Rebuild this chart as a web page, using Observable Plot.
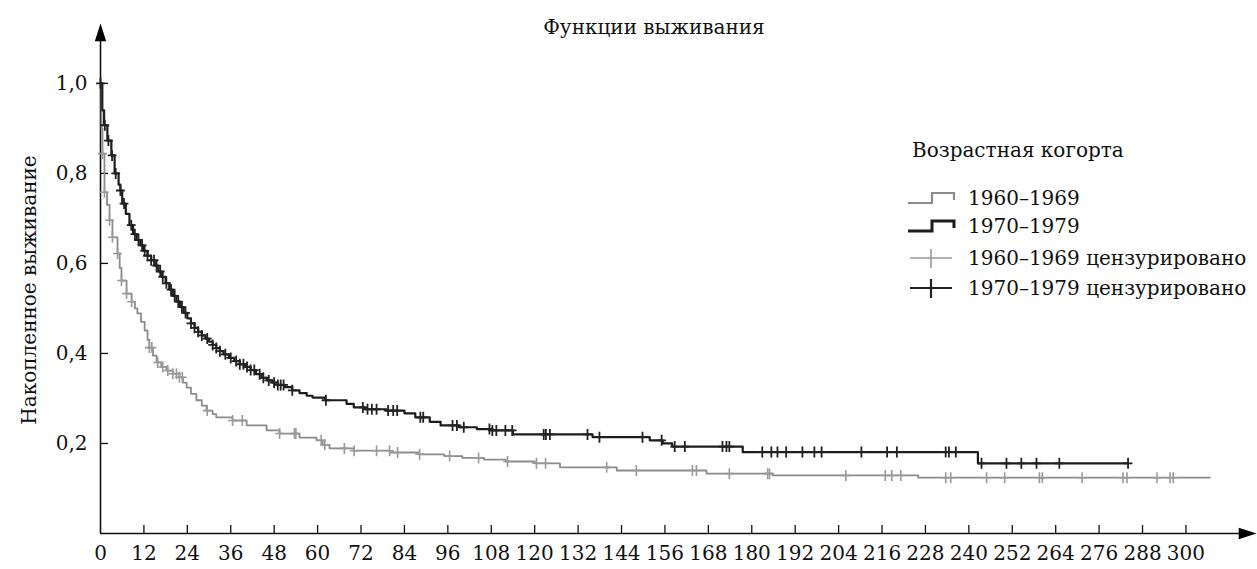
<!DOCTYPE html>
<html>
<head>
<meta charset="utf-8">
<script src="https://cdn.jsdelivr.net/npm/d3@7"></script>
<script src="https://cdn.jsdelivr.net/npm/@observablehq/plot@0.6"></script>
<style>
  html, body { margin: 0; padding: 0; background: #fff; }
  #wrap { position: relative; width: 1257px; height: 569px; overflow: hidden; font-family: "DejaVu Serif", serif; color: #111; }
  #chart { position: absolute; left: 0; top: 0; }
  .abs { position: absolute; white-space: nowrap; font-size: 20px; line-height: 1; }
  #title { left: 0; width: 1308px; text-align: center; top: 17px; }
  #ylab { left: 29px; top: 290px; transform: translate(-50%, -50%) rotate(-90deg); }
  .leg { position: absolute; left: 906px; height: 24px; display: flex; align-items: center; white-space: nowrap; font-size: 20px; }
  .leg svg { flex: none; }
  .leg span { margin-left: 12px; }
</style>
</head>
<body>
<div id="wrap">
  <div id="chart"></div>
  <div id="title" class="abs"></div>
  <div id="ylab" class="abs"></div>
  <div id="legtitle" class="abs" style="left:912px; top:140px;"></div>
  <div id="legend"></div>
</div>
<script>
// ---- text ----
const titleText = "Функции выживания";
const yLabel = "Накопленное выживание";
const legendTitle = "Возрастная когорта";
const cohorts = ["1960–1969", "1970–1979"];
const censSuffix = " цензурировано";

// ---- ticks ----
const xTicks = [0, 12, 24, 36, 48, 60, 72, 84, 96, 108, 120, 132, 144, 156, 168, 180, 192, 204, 216, 228, 240, 252, 264, 276, 288, 300];
const yTicks = [0.2, 0.4, 0.6, 0.8, 1.0];
const yTickLabels = ["0,2", "0,4", "0,6", "0,8", "1,0"];

// ---- 1960–1969 step curve (months, survival) ----
const times6069 = [0, 0.3, 0.55, 1.1, 1.8, 2.5, 3.3, 4.7, 5.3, 5.8, 7.2, 8.6, 9.5, 10.2, 11.2, 12.2, 13, 13.5, 14.5, 15.5, 16.8, 18.2, 20, 21.8, 22.8, 23.8, 25, 26.5, 28, 29.3, 31, 32, 36.5, 40.4, 45.9, 49.5, 55, 59.7, 61.4, 63.3, 70, 80, 88, 95, 100, 106, 112, 120, 127, 142.7, 167.5, 185.8, 226, 306.6];
const surv6069 = [1.0, 0.9, 0.844, 0.758, 0.73, 0.696, 0.658, 0.622, 0.59, 0.562, 0.533, 0.515, 0.5, 0.489, 0.47, 0.451, 0.43, 0.413, 0.395, 0.38, 0.37, 0.362, 0.355, 0.347, 0.335, 0.324, 0.31, 0.296, 0.284, 0.273, 0.265, 0.258, 0.251, 0.24, 0.229, 0.222, 0.213, 0.207, 0.197, 0.189, 0.184, 0.18, 0.176, 0.172, 0.168, 0.164, 0.16, 0.156, 0.147, 0.14, 0.133, 0.129, 0.124, 0.124];

// ---- 1970–1979 step curve ----
const times7079 = [0, 0.5, 1, 1.9, 3, 3.9, 5, 5.5, 6, 7, 8, 9, 10, 11, 12, 13, 14, 15, 16, 17, 18, 19, 20, 21, 22, 23, 24, 25, 26, 27, 28, 29, 30, 31, 32, 33, 34, 35.5, 37, 38.5, 40, 41.5, 43, 44.5, 46, 47.5, 49, 51, 53, 55, 57, 58.6, 62, 68, 70, 73, 79, 84, 87, 91, 94, 99, 104, 108, 114, 136, 151.8, 155.4, 158, 177.5, 242.5, 284];
const surv7079 = [1.0, 0.94, 0.907, 0.873, 0.84, 0.80, 0.775, 0.762, 0.733, 0.71, 0.685, 0.665, 0.652, 0.64, 0.628, 0.617, 0.607, 0.595, 0.582, 0.57, 0.556, 0.542, 0.528, 0.515, 0.503, 0.49, 0.478, 0.467, 0.457, 0.448, 0.44, 0.433, 0.426, 0.419, 0.412, 0.405, 0.398, 0.39, 0.383, 0.376, 0.37, 0.363, 0.354, 0.346, 0.34, 0.335, 0.33, 0.325, 0.318, 0.312, 0.306, 0.302, 0.296, 0.288, 0.28, 0.276, 0.273, 0.267, 0.258, 0.248, 0.24, 0.236, 0.232, 0.229, 0.22, 0.214, 0.207, 0.2, 0.193, 0.181, 0.156, 0.156];

// ---- censored observation times ----
const cens6069 = [0.55, 1.1, 2.5, 3.3, 4.7, 5.8, 7.2, 8.6, 13.5, 14.2, 15.8, 17.2, 18.6, 20, 21, 21.8, 22.6, 29.5, 36.5, 39.2, 49.5, 53.6, 54, 61, 62, 67.4, 70.1, 76.3, 79.9, 82.1, 88.2, 96.5, 104.5, 112.5, 120.5, 123, 139.9, 148.1, 163.6, 164.7, 173.8, 184.4, 184.9, 206, 216.9, 218.7, 221.2, 233.6, 235, 244.9, 249.9, 259.5, 260.3, 271.3, 282.6, 283.7, 292, 295.6, 296.5];
const cens7079 = [0, 1.2, 2.2, 3.2, 4.2, 5.5, 6.5, 8.5, 9.5, 10.5, 11.5, 12.2, 13, 14, 14.8, 15.5, 16.5, 17.2, 18.2, 19.5, 20.5, 21.5, 22.5, 23.5, 25, 26, 27, 28, 29.5, 31, 32, 33, 34.5, 36, 37.5, 38.5, 39.5, 40.5, 41.5, 42.5, 44, 45, 46.5, 48, 49, 49.8, 50.6, 53, 62.3, 72.5, 73.8, 75, 76.3, 79.5, 80.9, 82, 88.4, 89.2, 97.3, 98.5, 100.4, 107.5, 108.3, 109.4, 111.9, 113.8, 122.5, 123.1, 124.2, 134.6, 137.9, 149.8, 155.1, 158.7, 161.5, 171.9, 173, 173.8, 182.9, 185.4, 187.1, 189.5, 194, 197.3, 199.3, 210.3, 217.4, 220.1, 233.6, 234.5, 236.4, 243.5, 250.4, 254.5, 258.7, 265, 284];

// ---- build tables ----
function curveRows(times, surv, cohort) {
  return times.map((t, i) => ({t, s: surv[i], cohort}));
}
function survAt(times, surv, t) {
  let v = surv[0];
  for (let i = 0; i < times.length; i++) if (times[i] <= t) v = surv[i];
  return v;
}
function censRows(cens, times, surv, cohort) {
  return cens.map(t => ({t, s: survAt(times, surv, t), cohort}));
}
const curveA = curveRows(times6069, surv6069, cohorts[0]);
const curveB = curveRows(times7079, surv7079, cohorts[1]);
const censA = censRows(cens6069, times6069, surv6069, cohorts[0]);
const censB = censRows(cens7079, times7079, surv7079, cohorts[1]);

const colA = "#8c8c8c", colB = "#1c1c1c", colCensA = "#9a9a9a", colCensB = "#222";

const plusSymbol = {
  draw(ctx, size) {
    const r = Math.sqrt(size / Math.PI);
    ctx.moveTo(-0.8 * r, 0); ctx.lineTo(0.8 * r, 0);
    ctx.moveTo(0, -r); ctx.lineTo(0, r);
  }
};
const arrowUp = {
  draw(ctx, size) {
    const s = Math.sqrt(size);
    ctx.moveTo(0, 0); ctx.lineTo(-0.32 * s, s); ctx.lineTo(0.32 * s, s); ctx.closePath();
  }
};
const arrowRight = {
  draw(ctx, size) {
    const s = Math.sqrt(size);
    ctx.moveTo(0, 0); ctx.lineTo(-s, -0.32 * s); ctx.lineTo(-s, 0.32 * s); ctx.closePath();
  }
};

const xMax = 319.5, yMax = 1.133;
const W = 1257, H = 569, mL = 100, mR = 1, mT = 23, mB = 36;
const xPerPx = xMax / (W - mL - mR), yPerPx = yMax / (H - mT - mB);

const chart = Plot.plot({
  width: W, height: H,
  marginLeft: mL, marginRight: mR, marginTop: mT, marginBottom: mB,
  x: {domain: [0, xMax]},
  y: {domain: [0, yMax]},
  style: {fontFamily: "DejaVu Serif", fontSize: "20px", color: "#111", background: "transparent", overflow: "visible"},
  marks: [
    Plot.axisX({ticks: xTicks, tickSize: 0, tickPadding: 12, tickFormat: d => String(d), label: null}),
    Plot.axisY({ticks: yTicks, tickSize: 0, tickPadding: 13, tickFormat: d => yTickLabels[yTicks.indexOf(d)], label: null}),
    Plot.ruleX(xTicks.filter(d => d > 0), {x: d => d, y1: 0, y2: 8 * yPerPx, stroke: "#111", strokeWidth: 1.3}),
    Plot.ruleY(yTicks, {y: d => d, x1: 0, x2: 8 * xPerPx, stroke: "#111", strokeWidth: 1.3}),
    Plot.ruleY([0], {x1: 0, x2: xMax - 10 * xPerPx, stroke: "#111", strokeWidth: 1.6}),
    Plot.ruleX([0], {y1: 0, y2: yMax - 10 * yPerPx, stroke: "#111", strokeWidth: 1.6}),
    Plot.dot([0], {x: 0, y: yMax, symbol: arrowUp, r: 10, fill: "#000", stroke: "none"}),
    Plot.dot([0], {x: xMax, y: 0, symbol: arrowRight, r: 10, fill: "#000", stroke: "none"}),
    Plot.line(curveA, {x: "t", y: "s", curve: "step-after", stroke: colA, strokeWidth: 1.8}),
    Plot.dot(censA, {x: "t", y: "s", symbol: plusSymbol, r: 5.5, stroke: colCensA, strokeWidth: 1.6, fill: "none"}),
    Plot.line(curveB, {x: "t", y: "s", curve: "step-after", stroke: colB, strokeWidth: 2.2}),
    Plot.dot(censB, {x: "t", y: "s", symbol: plusSymbol, r: 5.5, stroke: colCensB, strokeWidth: 1.8, fill: "none"})
  ]
});
document.getElementById("chart").appendChild(chart);

document.getElementById("title").textContent = titleText;
document.getElementById("ylab").textContent = yLabel;
document.getElementById("legtitle").textContent = legendTitle;

// ---- legend ----
const legendItems = [
  {label: cohorts[0], kind: "step", color: colA, width: 2.2, top: 186},
  {label: cohorts[1], kind: "step", color: colB, width: 3, top: 214},
  {label: cohorts[0] + censSuffix, kind: "plus", color: colCensA, width: 1.6, top: 246},
  {label: cohorts[1] + censSuffix, kind: "plus", color: colCensB, width: 2.2, top: 276}
];
const legend = document.getElementById("legend");
legendItems.forEach(it => {
  const row = document.createElement("div");
  row.className = "leg";
  row.style.top = it.top + "px";
  const ns = "http://www.w3.org/2000/svg";
  const svg = document.createElementNS(ns, "svg");
  svg.setAttribute("width", 50); svg.setAttribute("height", 24);
  const p = document.createElementNS(ns, "path");
  p.setAttribute("d", it.kind === "step" ? "M2,17 H26 V7 H48 V14" : "M4,12 H46 M25,3 V22");
  p.setAttribute("fill", "none");
  p.setAttribute("stroke", it.color);
  p.setAttribute("stroke-width", it.width);
  svg.appendChild(p);
  row.appendChild(svg);
  const span = document.createElement("span");
  span.textContent = it.label;
  row.appendChild(span);
  legend.appendChild(row);
});
</script>
</body>
</html>
